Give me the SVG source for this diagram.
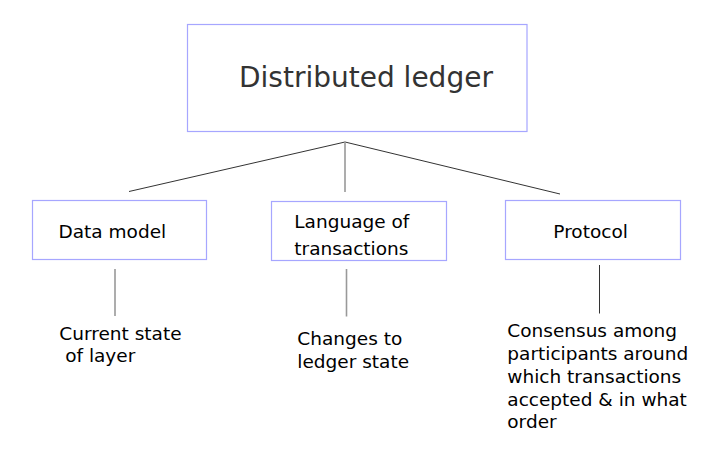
<svg xmlns="http://www.w3.org/2000/svg" width="718" height="464" viewBox="0 0 718 464">
<style>
.box{fill:#ffffff;stroke:#a6a6ff;stroke-width:1.2}
.t{font-family:"DejaVu Sans",sans-serif;font-size:18.5px;fill:#000000}
.title{font-family:"DejaVu Sans",sans-serif;font-size:28px;fill:#333333}
.dark{stroke:#333333;stroke-width:1;fill:none}
.gray{stroke:#999999;stroke-width:1.6;fill:none}
</style>
<rect width="718" height="464" fill="#ffffff"/>
<g id="connectors">
<line class="dark" x1="129" y1="191.5" x2="345" y2="142"/>
<line class="dark" x1="345" y1="142" x2="560" y2="194"/>
<line class="gray" x1="345" y1="142" x2="345" y2="192"/>
<line class="gray" x1="115" y1="269" x2="115" y2="316"/>
<line class="gray" x1="346.5" y1="269" x2="346.5" y2="316.5"/>
<line class="dark" x1="599.5" y1="265" x2="599.5" y2="313.5"/>
</g>
<g id="distributed-ledger">
<rect class="box" x="187.5" y="24.5" width="339.5" height="107"/>
<text class="title" x="239" y="86.5">Distributed ledger</text>
</g>
<g id="data-model">
<rect class="box" x="32.5" y="200.5" width="174" height="59"/>
<text class="t" x="58.5" y="238.3">Data model</text>
</g>
<g id="language">
<rect class="box" x="271.5" y="201.5" width="175" height="59"/>
<text class="t" x="294.3" y="228.3">Language of</text>
<text class="t" x="294.3" y="255">transactions</text>
</g>
<g id="protocol">
<rect class="box" x="505.5" y="200.5" width="175" height="59"/>
<text class="t" x="553.3" y="238.3">Protocol</text>
</g>
<g id="current-state">
<text class="t" x="59.3" y="340">Current state</text>
<text class="t" x="59.3" y="362.3" xml:space="preserve"> of layer</text>
</g>
<g id="changes">
<text class="t" x="297.3" y="345">Changes to</text>
<text class="t" x="297.3" y="368.3">ledger state</text>
</g>
<g id="consensus">
<text class="t" x="507.3" y="336.7">Consensus among</text>
<text class="t" x="507.3" y="359.5">participants around</text>
<text class="t" x="507.3" y="382.6">which transactions</text>
<text class="t" x="507.3" y="405.6">accepted &amp; in what</text>
<text class="t" x="507.3" y="428.3">order</text>
</g>
</svg>
